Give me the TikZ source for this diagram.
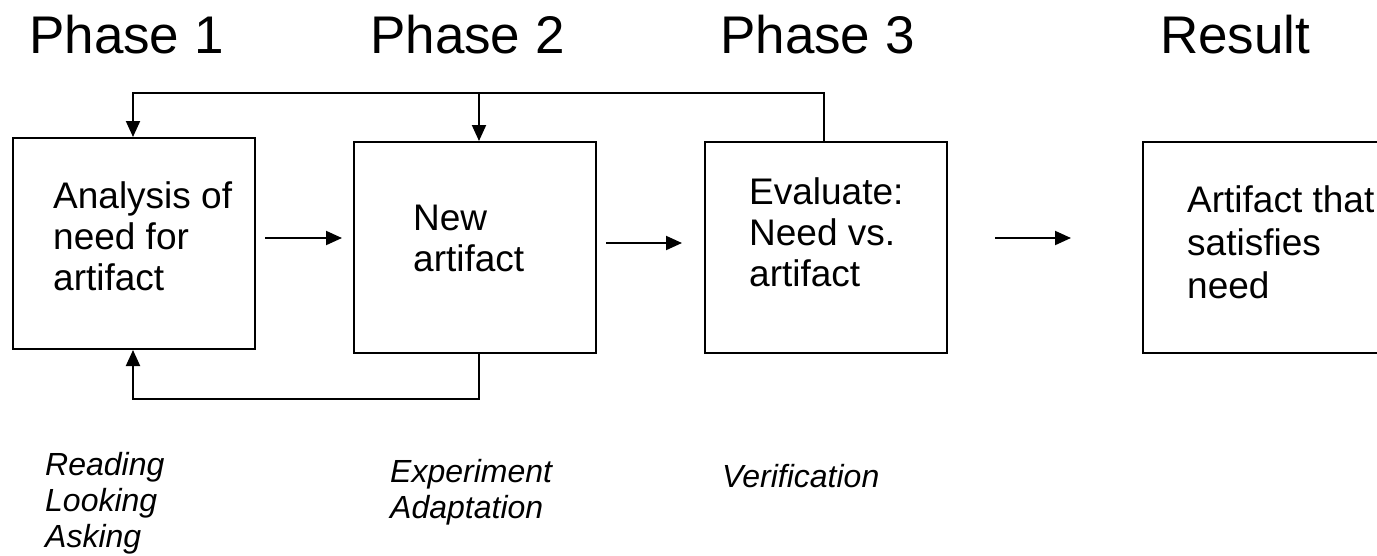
\documentclass[tikz,border=0pt]{standalone}
\usepackage{fontspec}
\setmainfont{Liberation Sans}
\usetikzlibrary{arrows.meta}
\begin{document}
\begin{tikzpicture}[x=1pt,y=-1pt,
  line/.style={line width=2pt, line join=miter},
  arr/.style={line, -{Triangle[length=16pt,width=14pt]}},
  box/.style={draw, line width=2pt, minimum width=242pt, minimum height=211pt,
    anchor=north west, inner sep=0pt},
  title/.style={anchor=base west, inner sep=0pt, font=\fontsize{53}{60}\selectfont},
  boxtext/.style={anchor=base west, inner sep=0pt, font=\fontsize{37}{41}\selectfont},
  note/.style={anchor=base west, inner sep=0pt, font=\itshape\fontsize{32}{36}\selectfont}]
  \fill[white] (0,0) rectangle (1377,555);
  \useasboundingbox (0,0) rectangle (1377,555);

  % phase headings
  \node[title] (h1) at (29,53) {Phase 1};
  \node[title] (h2) at (370,53) {Phase 2};
  \node[title] (h3) at (720,53) {Phase 3};
  \node[title] (h4) at (1160,53) {Result};

  % process boxes
  \node[box] (b1) at (12,137) {};
  \node[box] (b2) at (353,141) {};
  \node[box] (b3) at (704,141) {};
  \node[box, minimum width=250pt] (b4) at (1142,141) {};

  % box contents
  \node[boxtext] (t1) at (53,208) {\begin{tabular}[t]{@{}l@{}}Analysis of\\need for\\artifact\end{tabular}};
  \node[boxtext] (t2) at (413,230) {\begin{tabular}[t]{@{}l@{}}New\\artifact\end{tabular}};
  \node[boxtext] (t3) at (749,204) {\begin{tabular}[t]{@{}l@{}}Evaluate:\\Need vs.\\artifact\end{tabular}};
  \node[boxtext, font=\fontsize{37}{43}\selectfont] (t4) at (1187,212) {\begin{tabular}[t]{@{}l@{}}Artifact that\\satisfies\\need\end{tabular}};

  % activities of each phase
  \node[note] (n1) at (45,475) {\begin{tabular}[t]{@{}l@{}}Reading\\Looking\\Asking\end{tabular}};
  \node[note] (n2) at (390,482) {\begin{tabular}[t]{@{}l@{}}Experiment\\Adaptation\end{tabular}};
  \node[note] (n3) at (722,487) {Verification};

  % forward arrows between the boxes
  \coordinate (a1s) at (265,238); \coordinate (a1e) at (342,238);
  \coordinate (a2s) at (606,243); \coordinate (a2e) at (682,243);
  \coordinate (a3s) at (995,238); \coordinate (a3e) at (1071,238);
  \draw[arr] (a1s) -- (a1e);
  \draw[arr] (a2s) -- (a2e);
  \draw[arr] (a3s) -- (a3e);

  % feedback from evaluation to phases 1 and 2
  \coordinate (fa) at (133,93);
  \coordinate (fb) at (479,93);
  \coordinate (fc) at (824,93);
  \draw[arr] (b3.north -| fc) -- (fc) -- (fa) -- (fa |- b1.north);
  \draw[arr] (fb) -- (fb |- b2.north);

  % feedback from the new artifact to the analysis
  \coordinate (ga) at (133,399);
  \coordinate (gb) at (479,399);
  \draw[arr] (gb |- b2.south) -- (gb) -- (ga) -- (ga |- b1.south);
\end{tikzpicture}
\end{document}
